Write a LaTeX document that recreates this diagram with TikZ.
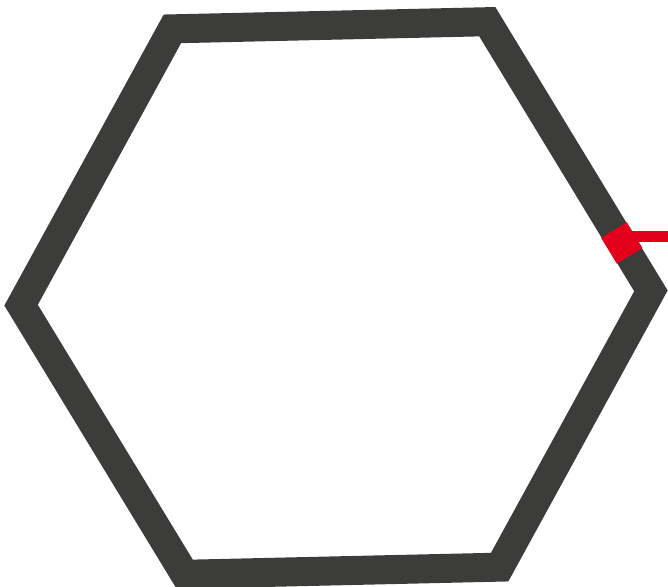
\documentclass[tikz,border=0pt]{standalone}
\usepackage{tikz}
\usetikzlibrary{calc}

\definecolor{hexgray}{HTML}{3C3C3A}
\definecolor{markred}{HTML}{E2001A}

\begin{document}
\begin{tikzpicture}[
  hexline/.style={draw=hexgray,line width=2.9mm,line join=miter},
  marker/.style={draw=markred,line width=3mm},
  lead/.style={draw=markred,line width=1.1mm}]
\useasboundingbox (0,0) rectangle (6.68,5.86);
\coordinate (c) at (3.36,2.88);
\foreach \i in {0,...,5}
  \coordinate (v\i) at ($(c)+(1.3+60*\i:3.15)$);
\draw[hexline] (v0) -- (v1) -- (v2) -- (v3) -- (v4) -- (v5) -- cycle;
\coordinate (mk) at ($(v0)!0.178!(v1)$);
\coordinate (tip) at (6.70,3.50);
\draw[lead] (mk |- tip) -- (tip);
\draw[marker] ($(v0)!0.13!(v1)$) -- ($(v0)!0.226!(v1)$);
\end{tikzpicture}
\end{document}
